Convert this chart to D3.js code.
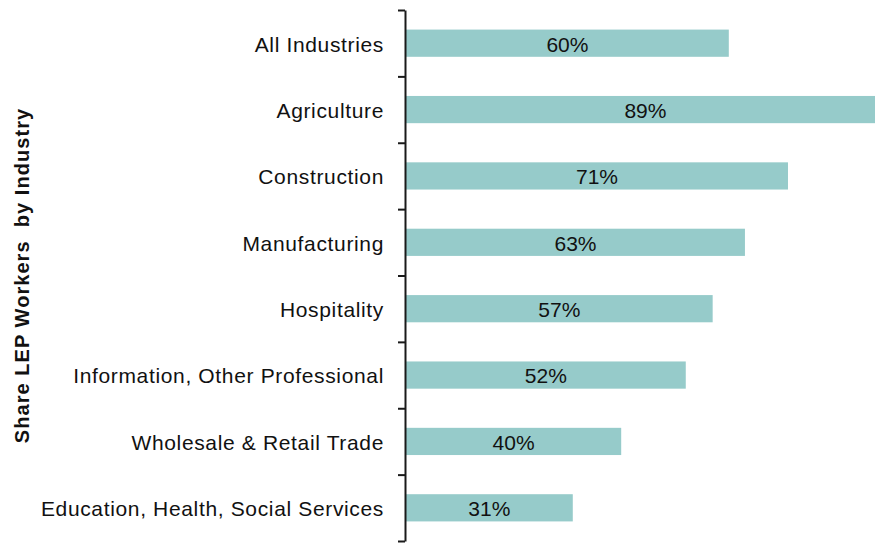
<!DOCTYPE html>
<html>
<head>
<meta charset="utf-8">
<script src="https://cdn.jsdelivr.net/npm/d3@7"></script>
<style>
  body { margin: 0; background: #fff; }
  svg { display: block; font-family: "Liberation Sans", Arial, sans-serif; }
  .domain { stroke: #1a1a1a; stroke-width: 2px; }
  .tick line { stroke: #1a1a1a; stroke-width: 2px; }
</style>
</head>
<body>
<svg id="chart"></svg>
<script>

// industries, top to bottom
var industries = [
  "All Industries",
  "Agriculture",
  "Construction",
  "Manufacturing",
  "Hospitality",
  "Information, Other Professional",
  "Wholesale & Retail Trade",
  "Education, Health, Social Services"
];

// share of LEP workers
var shares = [0.60, 0.89, 0.71, 0.63, 0.57, 0.52, 0.40, 0.31];

var axisTitle = "Share LEP Workers  by Industry";

var config = {
    w: 875,
    h: 543,
    left: 406,
    top: 10,
    bottom: 541
};

var data = industries.map(function(d, i) {
  return { name: d, value: shares[i] };
});

var svg = d3.select("#chart")
  .attr("width", config.w)
  .attr("height", config.h);

// bar length scale, 100% would be off the page
var x = d3.scaleLinear()
  .domain([0, 1])
  .range([config.left, config.left + 538]);

var y = d3.scaleBand()
  .domain(industries)
  .range([config.top, config.bottom])
  .paddingInner(0.59)
  .paddingOuter(0.295);

// ticks sit between categories
var edge = d3.scaleLinear()
  .domain([0, industries.length])
  .range([config.top, config.bottom]);

svg.append("g")
  .selectAll("rect")
  .data(data)
  .enter()
  .append("rect")
    .attr("x", x(0))
    .attr("y", function(d) { return y(d.name); })
    .attr("width", function(d) { return x(d.value) - x(0); })
    .attr("height", y.bandwidth())
    .attr("fill", "#96cbca");

svg.append("g")
  .attr("transform", "translate(" + (config.left - 1) + ",0)")
  .call(d3.axisLeft(edge)
    .tickValues(d3.range(industries.length + 1))
    .tickFormat("")
    .tickSize(7)
    .tickSizeOuter(0));

// category labels
svg.append("g")
  .selectAll("text")
  .data(data)
  .enter()
  .append("text")
    .attr("x", 384)
    .attr("y", function(d) { return y(d.name) + y.bandwidth() / 2 + 1; })
    .attr("dy", "0.35em")
    .attr("text-anchor", "end")
    .attr("fill", "#111")
    .style("font-size", "21px")
    .style("letter-spacing", "0.65px")
    .text(function(d) { return d.name; });

// value labels centered in bars
svg.append("g")
  .selectAll("text")
  .data(data)
  .enter()
  .append("text")
    .attr("x", function(d) { return (x(0) + x(d.value)) / 2; })
    .attr("y", function(d) { return y(d.name) + y.bandwidth() / 2 + 1; })
    .attr("dy", "0.35em")
    .attr("text-anchor", "middle")
    .attr("fill", "#111")
    .style("font-size", "21px")
    .text(function(d) { return Math.round(d.value * 100) + "%"; });

svg.append("text")
  .attr("transform", "translate(22," + 275.5 + ") rotate(-90)")
  .attr("dy", "0.35em")
  .attr("text-anchor", "middle")
  .attr("fill", "#111")
  .style("font-size", "20px")
  .style("font-weight", "bold")
  .style("letter-spacing", "1.05px")
  .style("white-space", "pre")
  .text(axisTitle);

</script>
</body>
</html>
